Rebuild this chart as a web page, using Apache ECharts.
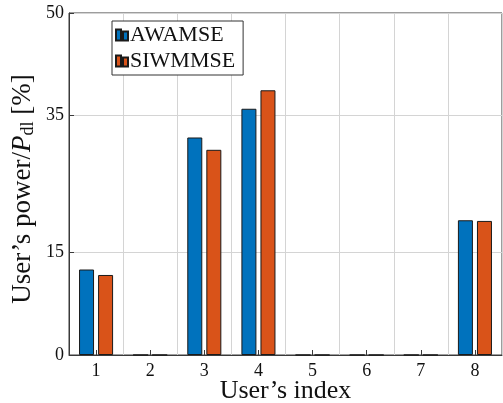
<!DOCTYPE html>
<html>
<head>
<meta charset="utf-8">
<script src="https://cdn.jsdelivr.net/npm/echarts@6/dist/echarts.min.js"></script>
<style>html,body{margin:0;padding:0;background:#fff}#c{width:503px;height:403px}</style>
</head>
<body>
<div id="c"></div>
<script>
const categories = ['1','2','3','4','5','6','7','8'];
const awamse = [12.5, 0, 31.8, 36.0, 0, 0, 0, 19.7];
const siwmmse = [11.7, 0, 30.0, 38.7, 0, 0, 0, 19.6];
const yTicks = [0, 15, 35, 50];
const seriesNames = ['AWAMSE', 'SIWMMSE'];

const FONT = '"Liberation Serif", "Times New Roman", serif';
const chart = echarts.init(document.getElementById('c'), null, {renderer: 'canvas'});
chart.setOption({
  animation: false,
  backgroundColor: '#fff',
  textStyle: {fontFamily: FONT},
  grid: {left: 69, right: 1, top: 13, bottom: 48, containLabel: false, outerBoundsMode: 'none',
         show: true, borderColor: '#3a3a3a', borderWidth: 1, backgroundColor: 'transparent'},
  legend: {
    left: 112, top: 21,
    orient: 'vertical',
    itemWidth: 14, itemHeight: 11, itemGap: 4,
    padding: [3, 8, 3, 3],
    borderColor: '#333', borderWidth: 1,
    backgroundColor: '#fff',
    textStyle: {fontFamily: FONT, fontSize: 22, color: '#111', padding: [0, 0, 0, -4]},
    data: [
      {name: seriesNames[0], icon: 'path://M0,0h5v11h-5z M7,2h5v9h-5z'},
      {name: seriesNames[1], icon: 'path://M0,0h5v11h-5z M7,2h5v9h-5z'}
    ]
  },
  xAxis: {
    type: 'category',
    data: categories,
    boundaryGap: true,
    name: 'User’s index',
    nameLocation: 'middle',
    nameGap: 23,
    nameMoveOverlap: false,
    nameTextStyle: {fontFamily: FONT, fontSize: 26, color: '#111'},
    axisLine: {show: true, lineStyle: {color: '#3a3a3a', width: 1}},
    axisTick: {show: true, alignWithLabel: true, inside: true, length: 5, lineStyle: {color: '#3a3a3a'}},
    axisLabel: {fontFamily: FONT, fontSize: 18, color: '#111', margin: 7},
    splitLine: {show: true, interval: 0, lineStyle: {color: '#d4d4d4', width: 1}}
  },
  yAxis: {
    type: 'value',
    min: 0, max: 50,
    name: '{n|User’s power/}{i|P}{s|dl}{n| [%]}',
    nameLocation: 'middle',
    nameGap: 32,
    nameMoveOverlap: false,
    nameRotate: 90,
    nameTextStyle: {
      fontFamily: FONT, fontSize: 27, color: '#111',
      padding: [0, 10, 0, 0],
      rich: {
        n: {fontFamily: FONT, fontSize: 27, color: '#111'},
        i: {fontFamily: FONT, fontSize: 27, fontStyle: 'italic', color: '#111'},
        s: {fontFamily: FONT, fontSize: 18, color: '#111', verticalAlign: 'bottom', padding: [10, 0, 0, 0]}
      }
    },
    axisLine: {show: true, lineStyle: {color: '#3a3a3a', width: 1}},
    axisTick: {show: true, inside: true, length: 5, customValues: yTicks, lineStyle: {color: '#3a3a3a'}},
    axisLabel: {fontFamily: FONT, fontSize: 18, color: '#111', margin: 5, customValues: yTicks},
    splitLine: {show: true, lineStyle: {color: '#d4d4d4', width: 1}}
  },
  series: [
    {
      name: seriesNames[0], type: 'bar', data: awamse,
      barWidth: 15, barGap: '27%',
      itemStyle: {color: '#0072BD', borderColor: '#1a1a1a', borderWidth: 1}
    },
    {
      name: seriesNames[1], type: 'bar', data: siwmmse,
      barWidth: 15, barGap: '27%',
      itemStyle: {color: '#D95319', borderColor: '#1a1a1a', borderWidth: 1}
    }
  ]
});
</script>
</body>
</html>
